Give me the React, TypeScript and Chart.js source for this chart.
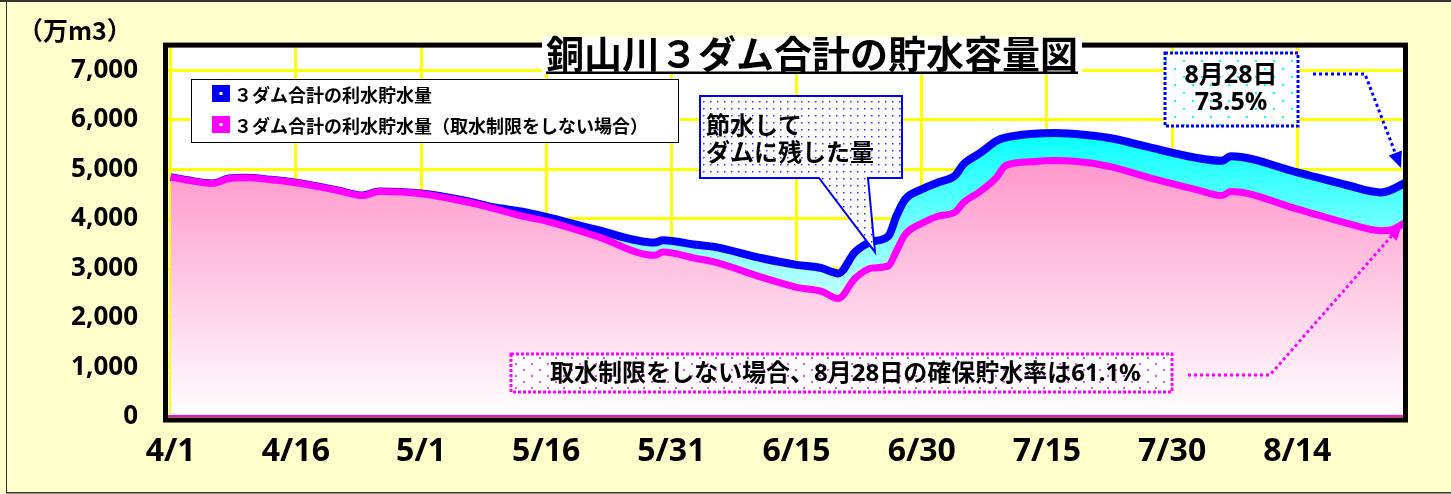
import React, { useEffect, useRef } from 'react';
import { Chart, registerables } from 'chart.js';

Chart.register(...registerables);

// ---------- data ----------
const dates = [
  '4/1', '4/3', '4/6', '4/8', '4/10', '4/13', '4/16', '4/21', '4/24', '4/26',
  '5/1', '5/6', '5/10', '5/13', '5/16', '5/22', '5/29', '5/30', '6/3', '6/5',
  '6/11', '6/15', '6/18', '6/20', '6/22', '6/24', '6/26', '6/27', '6/28', '6/30',
  '7/2', '7/4', '7/5', '7/7', '7/9', '7/10', '7/13', '7/16', '7/20', '7/23',
  '7/27', '8/2', '8/5', '8/6', '8/14', '8/20', '8/24', '8/25', '8/28',
];

const blueValues = [
  4845, 4780, 4717, 4815, 4833, 4790, 4729, 4575, 4472, 4555,
  4515, 4380, 4225, 4150, 4040, 3781, 3523, 3568, 3478, 3440,
  3200, 3072, 3006, 2900, 3330, 3540, 3652, 4071, 4394, 4600,
  4740, 4878, 5104, 5330, 5580, 5640, 5715, 5736, 5690, 5620,
  5459, 5232, 5175, 5265, 4942, 4680, 4536, 4570, 4830,
];

const magentaValues = [
  4845, 4780, 4717, 4815, 4833, 4790, 4729, 4575, 4472, 4555,
  4510, 4361, 4200, 4060, 3955, 3652, 3265, 3330, 3200, 3136,
  2813, 2619, 2536, 2394, 2800, 3006, 3052, 3362, 3684, 3910,
  4059, 4137, 4330, 4555, 4845, 5072, 5155, 5182, 5136, 5039,
  4845, 4588, 4472, 4555, 4200, 3910, 3761, 3770, 4040,
];

const seriesLabels = [
  '３ダム合計の利水貯水量',
  '３ダム合計の利水貯水量（取水制限をしない場合）',
];

const xTickLabels = ['4/1', '4/16', '5/1', '5/16', '5/31', '6/15', '6/30', '7/15', '7/30', '8/14'];
const yTickValues = [0, 1000, 2000, 3000, 4000, 5000, 6000, 7000];

const titleText = '銅山川３ダム合計の貯水容量図';
const unitText = '（万m3）';
const calloutLines = ['節水して', 'ダムに残した量'];
const endLabelLines = ['8月28日', '73.5%'];
const bottomNote = '取水制限をしない場合、8月28日の確保貯水率は61.1%';

// ---------- helpers ----------
const MONTH_START: Record<number, number> = { 4: 0, 5: 30, 6: 61, 7: 91, 8: 122 };
function dayOf(s: string): number {
  const [m, d] = s.split('/').map(Number);
  return MONTH_START[m] + d - 1;
}
const xLabelMap: Record<number, string> = {};
xTickLabels.forEach((l) => { xLabelMap[dayOf(l)] = l; });

const NUM_FAMILY = '"Noto Sans", "Noto Sans CJK JP", sans-serif';
const NUM_WEIGHT = 'bold condensed';
const JP_FONT = '"Noto Sans CJK JP", sans-serif';
const MIX_FONT = '"Noto Sans", "Noto Sans CJK JP", sans-serif';

function makePattern(ctx: CanvasRenderingContext2D, w: number, h: number, color: string, dots: number[][], size: number) {
  const c = document.createElement('canvas');
  c.width = w; c.height = h;
  const g = c.getContext('2d')!;
  g.fillStyle = '#FFFFFF';
  g.fillRect(0, 0, w, h);
  g.fillStyle = color;
  dots.forEach(([x, y]) => g.fillRect(x, y, size, size));
  return ctx.createPattern(c, 'repeat')!;
}

function dottedArrow(ctx: CanvasRenderingContext2D, pts: number[][], color: string) {
  const n = pts.length;
  const [x1, y1] = pts[n - 2];
  const [x2, y2] = pts[n - 1];
  const a = Math.atan2(y2 - y1, x2 - x1);
  const L = 16, W = 7;
  const bx = x2 - L * Math.cos(a), by = y2 - L * Math.sin(a);
  ctx.save();
  ctx.strokeStyle = color;
  ctx.lineWidth = 3;
  ctx.setLineDash([3, 3]);
  ctx.beginPath();
  ctx.moveTo(pts[0][0], pts[0][1]);
  for (let i = 1; i < n - 1; i++) ctx.lineTo(pts[i][0], pts[i][1]);
  ctx.lineTo(bx, by);
  ctx.stroke();
  ctx.setLineDash([]);
  ctx.fillStyle = color;
  ctx.beginPath();
  ctx.moveTo(x2, y2);
  ctx.lineTo(bx + W * Math.sin(a), by - W * Math.cos(a));
  ctx.lineTo(bx - W * Math.sin(a), by + W * Math.cos(a));
  ctx.closePath();
  ctx.fill();
  ctx.restore();
}

const decorPlugin = {
  id: 'decor',
  beforeDraw(chart: any) {
    const { ctx, chartArea: a, width, height } = chart;
    ctx.save();
    ctx.fillStyle = '#FFFFCC';
    ctx.fillRect(0, 0, width, height);
    ctx.fillStyle = '#FFFFFF';
    ctx.fillRect(a.left, a.top, a.right - a.left, a.bottom - a.top);
    // outer frame
    ctx.fillStyle = '#333333';
    ctx.fillRect(0, 0, width, 2);
    ctx.fillRect(6, 0, 1, 493);
    ctx.fillRect(6, 492, width - 6, 1.5);
    ctx.restore();
  },
  afterDatasetsDraw(chart: any) {
    const { ctx, chartArea: a } = chart;
    ctx.save();
    // zero line
    ctx.fillStyle = '#FF00FF';
    ctx.fillRect(a.left, a.bottom - 2, a.right - a.left, 2);
    // plot frame
    ctx.strokeStyle = '#000000';
    ctx.lineWidth = 5;
    ctx.strokeRect(a.left - 2.5, a.top - 0.5, a.right - a.left + 5, a.bottom - a.top + 3.5);

    // unit label
    ctx.fillStyle = '#000';
    ctx.font = `bold 25px ${JP_FONT}`;
    ctx.textAlign = 'left';
    ctx.textBaseline = 'middle';
    ctx.fillText(unitText, 18, 30);

    // title
    ctx.font = `bold 38px ${JP_FONT}`;
    const tw = ctx.measureText(titleText).width;
    const tcx = 812;
    ctx.fillStyle = '#FFFFFF';
    ctx.fillRect(tcx - tw / 2 - 4, 37, tw + 8, 37);
    ctx.fillStyle = '#000';
    ctx.textAlign = 'center';
    ctx.fillText(titleText, tcx, 54);
    ctx.fillRect(tcx - tw / 2, 71.5, tw, 2.5);

    // legend
    ctx.fillStyle = '#FFFFFF';
    ctx.fillRect(192, 80, 486, 62);
    ctx.strokeStyle = '#000';
    ctx.lineWidth = 1;
    ctx.strokeRect(191.5, 79.5, 487, 63);
    const legColors = ['#0000FF', '#FF00FF'];
    const legY = [94, 125];
    ctx.font = `bold 18px ${JP_FONT}`;
    ctx.textAlign = 'left';
    seriesLabels.forEach((lab, i) => {
      ctx.fillStyle = legColors[i];
      ctx.fillRect(212, legY[i] - 9, 18, 17);
      ctx.fillStyle = '#FFFFFF';
      ctx.fillRect(219.5, legY[i] - 2, 3, 3);
      ctx.fillStyle = '#000';
      ctx.fillText(lab, 234, legY[i] + 1);
    });

    // callout 節水して
    const bluePat = makePattern(ctx, 7, 7, '#3030FF', [[3, 3]], 1.5);
    ctx.beginPath();
    ctx.moveTo(700, 96);
    ctx.lineTo(902, 96);
    ctx.lineTo(902, 178);
    ctx.lineTo(868, 178);
    ctx.lineTo(875, 252);
    ctx.lineTo(819, 178);
    ctx.lineTo(700, 178);
    ctx.closePath();
    ctx.fillStyle = bluePat;
    ctx.fill();
    ctx.strokeStyle = '#0000FF';
    ctx.lineWidth = 2;
    ctx.stroke();
    ctx.fillStyle = '#000';
    ctx.font = `bold 24px ${JP_FONT}`;
    ctx.textAlign = 'left';
    ctx.fillText(calloutLines[0], 706, 125);
    ctx.fillText(calloutLines[1], 706, 152);

    // 8/28 box
    const cyanPat = makePattern(ctx, 18, 16, '#00FFFF', [[4, 4], [13, 12]], 2);
    ctx.fillStyle = cyanPat;
    ctx.fillRect(1164, 52, 135, 75);
    ctx.save();
    ctx.strokeStyle = '#0000FF';
    ctx.lineWidth = 3;
    ctx.setLineDash([3, 2]);
    ctx.strokeRect(1165, 53, 133, 73);
    ctx.restore();
    ctx.fillStyle = '#000';
    ctx.font = `${NUM_WEIGHT} 25px ${MIX_FONT}`;
    ctx.textAlign = 'center';
    ctx.fillText(endLabelLines[0], 1231, 76);
    ctx.fillText(endLabelLines[1], 1231, 103);
    dottedArrow(ctx, [[1313, 74], [1365, 74], [1401, 168]], '#0000FF');

    // bottom note
    const magPat = makePattern(ctx, 16, 12, '#FF40FF', [[3, 3], [11, 9]], 2);
    ctx.fillStyle = magPat;
    ctx.fillRect(510, 353, 663, 40);
    ctx.save();
    ctx.strokeStyle = '#FF00FF';
    ctx.lineWidth = 3;
    ctx.setLineDash([3, 2]);
    ctx.strokeRect(511, 354, 661, 38);
    ctx.restore();
    ctx.fillStyle = '#000';
    ctx.font = `${NUM_WEIGHT} 24px ${MIX_FONT}`;
    ctx.textAlign = 'left';
    ctx.fillText(bottomNote, 550, 374);
    dottedArrow(ctx, [[1188, 375], [1270, 375], [1402, 224]], '#FF00FF');

    ctx.restore();
  },
};

export default function App() {
  const ref = useRef<HTMLCanvasElement>(null);

  useEffect(() => {
    const canvas = ref.current!;
    const pinkFill = (c: any) => {
      const chart = c.chart;
      const y = chart.scales?.y;
      if (!chart.chartArea || !y) return '#FF99CC';
      const g = chart.ctx.createLinearGradient(0, y.getPixelForValue(5100), 0, y.getPixelForValue(0));
      g.addColorStop(0, '#FF99CC');
      g.addColorStop(1, '#FFFFFF');
      return g;
    };
    const cyanFill = (c: any) => {
      const chart = c.chart;
      const y = chart.scales?.y;
      if (!chart.chartArea || !y) return '#66FFFF';
      const g = chart.ctx.createLinearGradient(0, y.getPixelForValue(5850), 0, y.getPixelForValue(2250));
      g.addColorStop(0, '#00FFFF');
      g.addColorStop(1, '#CCFFFF');
      return g;
    };

    const chart = new Chart(canvas, {
      type: 'line',
      data: {
        datasets: [
          {
            label: seriesLabels[0],
            data: dates.map((d, i) => ({ x: dayOf(d), y: blueValues[i] })),
            borderColor: '#0000FF',
            borderWidth: 8,
            backgroundColor: cyanFill,
            fill: 1,
            order: 2,
            pointRadius: 0,
            cubicInterpolationMode: 'monotone',
            borderJoinStyle: 'round',
          },
          {
            label: seriesLabels[1],
            data: dates.map((d, i) => ({ x: dayOf(d), y: magentaValues[i] })),
            borderColor: '#FF00FF',
            borderWidth: 7,
            backgroundColor: pinkFill,
            fill: 'origin',
            order: 1,
            pointRadius: 0,
            cubicInterpolationMode: 'monotone',
            borderJoinStyle: 'round',
          },
        ],
      } as any,
      options: {
        animation: false,
        responsive: false,
        events: [],
        layout: { padding: { left: 0, top: 29, right: 48, bottom: 0 } },
        plugins: {
          legend: { display: false },
          tooltip: { enabled: false },
          title: { display: false },
        },
        scales: {
          x: {
            type: 'linear',
            min: -0.32,
            max: 147.67,
            afterBuildTicks: (s: any) => { s.ticks = xTickLabels.map((l) => ({ value: dayOf(l) })); },
            afterFit: (s: any) => { s.height = 77; },
            grid: { color: '#FFFF00', lineWidth: 3, drawTicks: false },
            border: { display: false },
            ticks: {
              callback: (v: any) => xLabelMap[v] ?? '',
              font: { family: NUM_FAMILY, size: 32, weight: NUM_WEIGHT },
              color: '#000000',
              padding: 16,
              maxRotation: 0,
              autoSkip: false,
            },
          },
          y: {
            min: 0,
            max: 7500,
            afterBuildTicks: (s: any) => { s.ticks = yTickValues.map((v) => ({ value: v })); },
            afterFit: (s: any) => { s.width = 168; },
            grid: { color: '#FFFF00', lineWidth: 3, drawTicks: false },
            border: { display: false },
            ticks: {
              callback: (v: any) => Number(v).toLocaleString('en-US'),
              font: { family: NUM_FAMILY, size: 26, weight: NUM_WEIGHT },
              color: '#000000',
              padding: 30,
              autoSkip: false,
            },
          },
        },
      } as any,
      plugins: [decorPlugin],
    });
    return () => chart.destroy();
  }, []);

  return (
    <div style={{ position: 'fixed', left: 0, top: 0, width: 1451, height: 494 }}>
      <canvas ref={ref} width={1451} height={494} style={{ display: 'block', width: 1451, height: 494 }} />
    </div>
  );
}
